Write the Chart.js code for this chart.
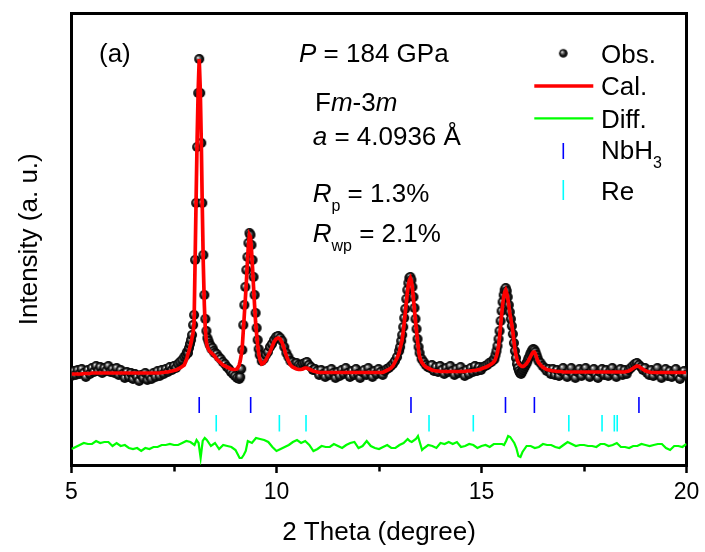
<!DOCTYPE html>
<html><head><meta charset="utf-8">
<script src="https://cdn.jsdelivr.net/npm/chart.js@4.4.1/dist/chart.umd.min.js"></script>
<style>html,body{margin:0;padding:0;background:#fff;}canvas{display:block;}</style>
</head><body>
<canvas id="c" width="705" height="552"></canvas>
<script>
// ---------------- DATA ----------------
// x axis (2 Theta, degree)
const xMin = 5, xMax = 20, xStep = 2.5;
const xMajorLabels = [5, 10, 15, 20];
// Observed / calculated profile, sampled on segments (start, step)
const segStart = [5.00, 7.79, 8.54, 9.115, 9.64, 13.015, 13.54, 15.315, 16.44];
const segStep  = [0.05, 0.025, 0.05, 0.025, 0.05, 0.025, 0.05, 0.025, 0.05];

const obsS1 = [89,94,90,95,91,96,92,88,95,91, 97,93,99,94,98,92,97,94,99,93, 96,92,97,90,95,91,87,93,88,92, 86,91,88,84,90,87,92,85,89,86, 92,88,94,89,95,91,96,93,98,95, 99,97,101,103,105,108];
const obsS2 = [110,113,112,117,121,125,130,140,150,205,262,318,372,406,372,322,262,210,170,146,134,127,124,121,119,116,117,114,112];
const obsS3 = [111,108,106,103,101,98,96,93,91,89,87,86];
const obsS4 = [88,96,115,140,160,178,195,208,222,232,230,220,205,188,170,152,137,125,116,110];
const obsS5 = [104,106,110,113,118,121,125,128,129,127, 124,118,112,108,104,103,101,102,100,99, 101,102,103,100,98,95,96,94,
  90,95,91,88,94,90,96,92,87,93, 89,95,91,97,92,88,94,90,96,91, 87,93,95,90,97,92,88,94,91,96, 93,90,
  94,96,97,99,101,104,108,114];
const obsS6 = [118,124,130,138,147,156,166,175,182,187,188,185,178,168,157,146,136,126,118,112];
const obsS7 = [106,103,100,98,97,100,94,98,93,99, 95,91,97,93,99,94,90,96,92,98, 93,89,95,91,97,93,99,94,98,95, 98,99,100,102,103,105];
const obsS8 = [106,110,114,119,126,134,144,154,163,170, 175,177,174,168,160,153,146,139,131,122, 114,107,101,97,94,92,91,93,95,97, 99,101,103,106,108,111,113,115,116,115, 113,110,107,104];
const obsS9 = [102,99,97,94,96,91,96,90,95,89, 94,97,91,88,94,97,90,87,93,96, 89,94,97,91,88,94,96,90,87,93, 96,90,95,89,94,97,91,88,94,96,
  90,95,91,95,97,99,101,102,100,98, 95,97,92,90,95,89,94,97,90,87, 93,96,89,94,88,93,96,89,86,92, 94,90];

const calS1 = [91,91,91,91,91,91,91.5,91.5,91.5,91.5, 92,92,92,92,92,92,92,92,92,92, 92,92,92,92,92,92,92,92,92,92, 92,92,92,92,92,92,92,92,92,92, 92,
  92,92,92,92.5,92.5,93,93,93.5,94,94.5,95,96,97,98.5,100];
const calS2 = [104,107,111,114,118,122,127,132,142,205,268,328,375,406,377,325,258,200,160,135,123,118,116,114,113,112,111,110,109];
const calS3 = [106,104,102,100,99,98,97,96,95.5,95.5,96,100];
const calS4 = [104,110,118,134,150,166,183,203,220,230,228,215,198,178,160,143,131,120,112,106];
const calS5 = [101,102,105,109,113,118,123,126,127,126, 122,116,109,104,100,98,97,96,95.5,95.5, 96,97,97,96,95,94,93.5,93,
  92.5,92.5,92.5,92.5,92.5,92.5,92.5,92.5, 92.5,92.5,92.5,92.5,92.5,92.5,92.5,92.5, 92.5,92.5,92.5,92.5,92.5,92.5,92.5,92.5, 92.5,92.5,92.5,92.5,92.5,92.5,92.5,92.5,
  93.5,94.5,95.5,97,99,103,107,112];
const calS6 = [117,121,125,133,142,152,162,172,180,185,187,184,177,166,155,144,134,124,115,108];
const calS7 = [103,100,98,97,96,95,94.5,94,94,93.5, 93.5,93.5,93.5,93.5,93.5,93.5,93.5,93.5,93.5,93.5, 93.5,93.5,94,94,94,94.5,94.5,95,95.5,96, 97,97.5,98.5,99.5,101,102.5];
const calS8 = [104,106,109,113,119,128,139,150,160,168, 173,175,172,167,160,152,146,140,133,124, 116,110,106,103,101,100,99,98.5,98.5,99, 100,101,102.5,104,106,108,110,112,113,113, 111,108,105,102.5];
const calS9 = [100,98,96.5,95.5,95,94.5,94,94,93.5,93.5, 93.5,93,
  93,93,93,93,93,93,93,93,93,93, 93,93,93,93,93,93,93,93,93,93, 93,93,93,93,93,93,93,93,93,93,
  93.5,94,95,96.5,98,99,98.5,97,95.5,94.5, 93.5,93,
  92.5,92.5,92.5,92.5,92.5,92.5,92.5,92.5,92.5, 92.5,92.5,92.5,92.5,92.5,92.5,92.5,92.5,92.5];

// Difference curve (offset)
const diffX = [5.0,5.1,5.2,5.3,5.4,5.5,5.6,5.7,5.8,5.9,6.0,6.1,6.2,6.3,6.4,6.5,6.6,6.7,6.8,6.9,7.0,7.1,7.2,7.3,7.4,7.5,7.6,7.7,7.8,7.9,
  8.0,8.05,8.1,8.15,8.2,8.25,8.3,8.4,8.5,8.6,8.7,8.8,8.9,9.0,9.1,9.15,9.2,9.25,9.3,9.4,9.5,9.6,9.7,9.8,9.9,
  10.0,10.1,10.2,10.3,10.4,10.5,10.6,10.7,10.8,10.9,11.0,11.1,11.2,11.3,11.4,11.5,11.6,11.7,11.8,11.9,12.0,12.1,12.2,12.3,12.4,12.5,12.6,12.7,12.8,12.9,
  13.0,13.1,13.2,13.25,13.3,13.4,13.45,13.5,13.55,13.6,13.7,13.8,13.9,14.0,14.1,14.2,14.3,14.4,14.5,14.6,14.7,14.8,14.9,
  15.0,15.1,15.2,15.3,15.4,15.5,15.55,15.6,15.65,15.7,15.75,15.8,15.85,15.9,15.95,16.0,16.1,16.2,16.3,16.4,16.5,16.6,16.7,16.8,16.9,
  17.0,17.1,17.2,17.3,17.4,17.5,17.6,17.7,17.8,17.9,18.0,18.1,18.2,18.3,18.4,18.5,18.6,18.7,18.8,18.9,19.0,19.1,19.2,19.3,19.4,19.5,19.6,19.7,19.8,19.9,20.0];
const diffY = [16,18,20,22,21,21,24,22,23,23,19,22,19,20,17,16,17,14,17,16,18,18,20,20,21,20,20,22,24,23,
  20,25,22,7,24,27,25,19,22,16,20,19,18,15,7,7,10,14,24,22,27,26,25,23,18,
  14,16,18,20,23,25,22,24,20,14,16,19,18,18,21,19,17,20,22,23,17,19,24,19,17,16,18,20,17,17,
  20,22,26,24,23,26,29,22,15,17,20,19,17,22,21,23,21,23,18,19,21,20,17,
  19,20,18,21,21,21,20,24,29,28,25,22,17,9,8,13,19,19,17,18,21,20,20,18,17,
  20,23,21,19,20,20,19,19,18,21,21,19,20,22,18,18,17,19,19,21,20,19,20,21,21,17,15,19,19,18,21];

// Reflection positions
const nbh3Pos = [8.115, 9.37, 13.28, 15.585, 16.29, 18.84];
const rePos   = [8.53, 10.07, 10.72, 13.72, 14.80, 17.13, 17.94, 18.24, 18.31];
const nbh3Row = 60, reRow = 41.7;
const yMin = 0, yMax = 451.5;

// ---------------- BUILD ----------------
const FONT = '"Liberation Sans", Arial, Helvetica, sans-serif';
Chart.defaults.font.family = FONT;
Chart.defaults.color = '#000';

function seg(x0, dx, ys) { return ys.map((y, i) => ({ x: +(x0 + dx * i).toFixed(4), y })); }
const obsSegs = [obsS1, obsS2, obsS3, obsS4, obsS5, obsS6, obsS7, obsS8, obsS9];
const calSegs = [calS1, calS2, calS3, calS4, calS5, calS6, calS7, calS8, calS9];
const obsData = [].concat(...obsSegs.map((a, k) => seg(segStart[k], segStep[k], a)));
const calData = [].concat(...calSegs.map((a, k) => seg(segStart[k], segStep[k], a)));
const diffData = diffX.map((x, i) => ({ x, y: diffY[i] }));
const nbhData = nbh3Pos.map(x => ({ x, y: nbh3Row }));
const reData = rePos.map(x => ({ x, y: reRow }));

function makeDot(r) {
  const s = Math.ceil(r * 2) + 2;
  const c = document.createElement('canvas'); c.width = s; c.height = s;
  const g = c.getContext('2d'); const cx = s / 2, cy = s / 2;
  const gr = g.createRadialGradient(cx - 1.4, cy - 1.4, 0.2, cx, cy, r);
  gr.addColorStop(0, '#e6e6e6'); gr.addColorStop(0.28, '#777'); gr.addColorStop(0.6, '#1a1a1a'); gr.addColorStop(1, '#000');
  g.fillStyle = gr; g.beginPath(); g.arc(cx, cy, r, 0, Math.PI * 2); g.fill();
  return c;
}
const dot = makeDot(5);
const legendDot = makeDot(4.3);

const annot = {
  id: 'annot',
  afterDraw(chart) {
    const ctx = chart.ctx;
    ctx.save();
    ctx.fillStyle = '#000'; ctx.textBaseline = 'alphabetic'; ctx.textAlign = 'left';
    const line = (x, y, parts) => {
      for (const p of parts) {
        const size = p.sub ? 16 : 26;
        ctx.font = (p.it ? 'italic ' : '') + size + 'px ' + FONT;
        ctx.fillText(p.t, x, y + (p.sub ? 9 : 0));
        x += ctx.measureText(p.t).width;
      }
    };
    line(99, 62, [{ t: '(a)' }]);
    line(299, 62.3, [{ t: 'P', it: 1 }, { t: ' = 184 GPa' }]);
    line(315, 110.7, [{ t: 'F' }, { t: 'm', it: 1 }, { t: '-3' }, { t: 'm', it: 1 }]);
    line(312.7, 145, [{ t: 'a', it: 1 }, { t: ' = 4.0936 Å' }]);
    line(312.7, 202.3, [{ t: 'R', it: 1 }, { t: 'p', sub: 1 }, { t: ' = 1.3%' }]);
    line(312.7, 242.3, [{ t: 'R', it: 1 }, { t: 'wp', sub: 1 }, { t: ' = 2.1%' }]);
    // legend
    const lx = 601;
    line(lx, 62.5, [{ t: 'Obs.' }]);
    line(lx, 95, [{ t: 'Cal.' }]);
    line(lx, 128, [{ t: 'Diff.' }]);
    line(lx, 159.3, [{ t: 'NbH' }, { t: '3', sub: 1 }]);
    line(lx, 200, [{ t: 'Re' }]);
    ctx.drawImage(legendDot, 563.3 - legendDot.width / 2, 53.3 - legendDot.height / 2);
    ctx.lineCap = 'butt';
    ctx.strokeStyle = '#ff0000'; ctx.lineWidth = 3.5;
    ctx.beginPath(); ctx.moveTo(534.3, 86); ctx.lineTo(593.3, 86); ctx.stroke();
    ctx.strokeStyle = '#00ff00'; ctx.lineWidth = 2.2;
    ctx.beginPath(); ctx.moveTo(534.3, 118.3); ctx.lineTo(593.3, 118.3); ctx.stroke();
    ctx.strokeStyle = '#0000ff'; ctx.lineWidth = 1.6;
    ctx.beginPath(); ctx.moveTo(563.3, 143); ctx.lineTo(563.3, 159); ctx.stroke();
    ctx.strokeStyle = '#00ffff';
    ctx.beginPath(); ctx.moveTo(563.3, 180); ctx.lineTo(563.3, 200); ctx.stroke();
    ctx.restore();
  }
};

new Chart(document.getElementById('c'), {
  type: 'scatter',
  data: {
    datasets: [
      { label: 'Cal.', data: calData, showLine: true, borderColor: '#ff0000', borderWidth: 3.7, pointRadius: 0, tension: 0, order: 0 },
      { label: 'Obs.', data: obsData, showLine: false, pointStyle: dot, pointRadius: 5, order: 1 },
      { label: 'Diff.', data: diffData, showLine: true, borderColor: '#00ff00', borderWidth: 2.2, pointRadius: 0, tension: 0, order: 2 },
      { label: 'NbH3', data: nbhData, showLine: false, pointStyle: 'line', rotation: 90, pointRadius: 8,
        borderColor: '#0000ff', pointBorderColor: '#0000ff', borderWidth: 1.6, pointBorderWidth: 1.6, order: 3 },
      { label: 'Re', data: reData, showLine: false, pointStyle: 'line', rotation: 90, pointRadius: 8.3,
        borderColor: '#00ffff', pointBorderColor: '#00ffff', borderWidth: 1.6, pointBorderWidth: 1.6, order: 4 }
    ]
  },
  options: {
    responsive: false, animation: false, events: [],
    layout: { padding: { left: 0, right: 18.5, top: 13.5, bottom: 0 } },
    plugins: { legend: { display: false }, tooltip: { enabled: false } },
    scales: {
      x: {
        type: 'linear', position: 'bottom', min: xMin, max: xMax,
        ticks: { stepSize: xStep, autoSkip: false, maxRotation: 0, minRotation: 0, padding: 5.5, color: '#000', font: { size: 23 },
          callback: (v) => xMajorLabels.includes(v) ? String(v) : '' },
        grid: { display: true, drawOnChartArea: false, drawTicks: true, tickLength: 8, tickWidth: 2.5, tickColor: '#000', lineWidth: 3,
          tickBorderDash: (c) => (c.tick && xMajorLabels.includes(c.tick.value)) ? [] : [4.5, 100] },
        border: { display: true, width: 3, color: '#000' },
        title: { display: true, text: '2 Theta (degree)', color: '#000', font: { size: 26 }, padding: { top: 0, bottom: 3.4 } },
        afterFit: (s) => { s.height = 87; }
      },
      x2: {
        type: 'linear', position: 'top', min: xMin, max: xMax,
        ticks: { display: false }, grid: { display: false, drawTicks: false, lineWidth: 3 },
        border: { display: true, width: 3, color: '#000' },
        afterFit: (s) => { s.height = 0; }
      },
      y: {
        type: 'linear', position: 'left', min: yMin, max: yMax,
        ticks: { display: false }, grid: { display: false, drawTicks: false, lineWidth: 3 },
        border: { display: true, width: 3, color: '#000' },
        title: { display: true, text: 'Intensity (a. u.)', color: '#000', font: { size: 26 }, padding: { top: 14, bottom: 0 } },
        afterFit: (s) => { s.width = 71.5; }
      },
      y2: {
        type: 'linear', position: 'right', min: yMin, max: yMax,
        ticks: { display: false }, grid: { display: false, drawTicks: false, lineWidth: 3 },
        border: { display: true, width: 3, color: '#000' },
        afterFit: (s) => { s.width = 0; }
      }
    }
  },
  plugins: [annot]
});
</script>
</body></html>
